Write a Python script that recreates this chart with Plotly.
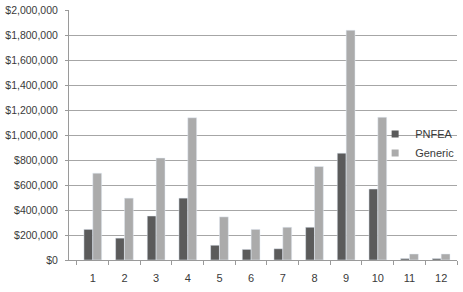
import plotly.graph_objects as go

categories = ["1", "2", "3", "4", "5", "6", "7", "8", "9", "10", "11", "12"]
pnfea = [245000, 175000, 352000, 495000, 118000, 85000, 90000, 262000, 855000, 568000, 12000, 12000]
generic = [695000, 495000, 816000, 1138000, 345000, 245000, 262000, 748000, 1838000, 1142000, 48000, 48000]
ytick_vals = [0, 200000, 400000, 600000, 800000, 1000000, 1200000, 1400000, 1600000, 1800000, 2000000]
ytick_text = ["$0", "$200,000", "$400,000", "$600,000", "$800,000", "$1,000,000",
              "$1,200,000", "$1,400,000", "$1,600,000", "$1,800,000", "$2,000,000"]

c_pnfea = "#5b5b5b"
c_generic = "#ababab"

fig = go.Figure()
fig.add_trace(go.Bar(x=categories, y=pnfea, name="PNFEA", marker_color=c_pnfea,
                     showlegend=False))
fig.add_trace(go.Bar(x=categories, y=generic, name="Generic", marker_color=c_generic,
                     showlegend=False))
# legend entries with small square swatches
fig.add_trace(go.Scatter(x=[categories[0]], y=[None], mode="markers", name="PNFEA",
                         marker=dict(symbol="square", size=7, color=c_pnfea),
                         legendgroup="a"))
fig.add_trace(go.Scatter(x=[categories[0]], y=[None], mode="markers", name="Generic",
                         marker=dict(symbol="square", size=7, color=c_generic),
                         legendgroup="b"))

font = dict(family="Liberation Sans, Arial, sans-serif", size=10, color="#3a3a3a")
fig.update_layout(
    width=463, height=292,
    margin=dict(l=69, r=6, t=10, b=32, autoexpand=False),
    paper_bgcolor="white", plot_bgcolor="white",
    barmode="group", bargap=0.44, bargroupgap=0,
    font=font,
    showlegend=True,
    legend=dict(x=0.789, y=0.466, xanchor="left", yanchor="middle",
                bgcolor="rgba(0,0,0,0)", font=dict(size=11, color="#3a3a3a"),
                tracegroupgap=12, traceorder="normal", itemwidth=30),
    xaxis=dict(showline=True, linecolor="#9a9a9a", linewidth=1,
               ticks="outside", tickson="boundaries", ticklen=4, tickcolor="#9a9a9a",
               showgrid=False, tickfont=dict(size=11), automargin=False,
               ticklabelstandoff=8),
    yaxis=dict(range=[0, 2000000], tickvals=ytick_vals, ticktext=ytick_text,
               showline=True, linecolor="#9a9a9a", linewidth=1,
               ticks="outside", ticklen=3, tickcolor="#9a9a9a",
               showgrid=True, gridcolor="#a6a6a6", gridwidth=1,
               zeroline=False, tickfont=dict(size=10.5), automargin=False,
               ticklabelstandoff=5),
)
fig.write_html("out.html", config={"displayModeBar": False},
               post_script="document.body.style.margin='0';document.body.style.overflow='hidden';")
